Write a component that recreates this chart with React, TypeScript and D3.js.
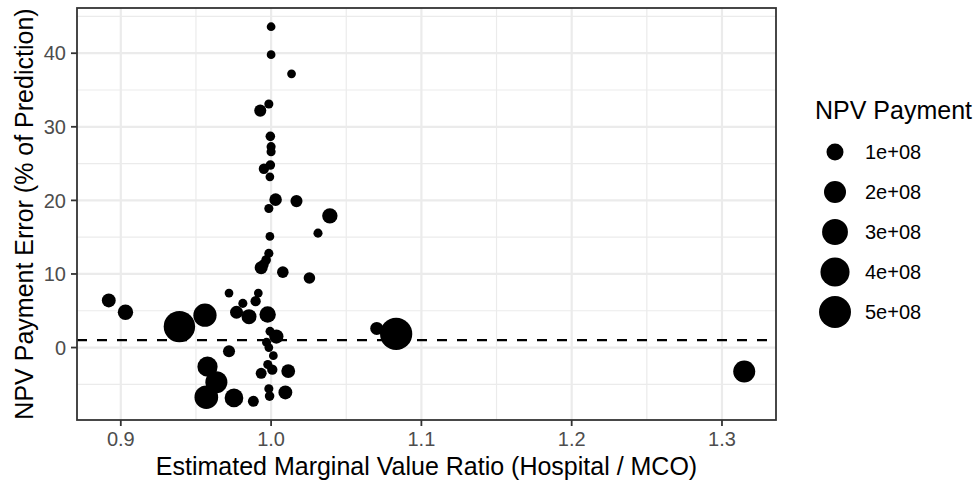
import React from "react";
import * as d3 from "d3";

// Estimated Marginal Value Ratio (Hospital / MCO)
const ratio = [
  1.0, 1.0, 1.0136, 0.9985, 0.9928, 0.9995, 1.0, 1.0, 0.9952, 0.9995,
  0.9992, 1.003, 1.0169, 0.9985, 1.0391, 1.0312, 0.9992, 0.9985, 0.9934, 0.995,
  0.9967, 1.0078, 1.0255, 0.972, 0.9915, 0.9897, 0.9812, 0.977, 0.9853, 0.9977,
  0.956, 0.939, 0.892, 0.9031, 0.9993, 1.0035, 0.997, 0.9985, 0.972, 1.0015,
  0.9577, 0.9978, 1.0008, 0.9934, 1.0114, 0.9636, 0.9569, 0.9753, 0.9882, 0.9985,
  0.999, 1.0095, 1.0703, 1.0832, 1.3148,
];
// NPV Payment Error (% of Prediction)
const errorPct = [
  43.6, 39.8, 37.2, 33.1, 32.2, 28.7, 27.3, 26.6, 24.3, 24.8,
  23.2, 20.1, 19.9, 18.9, 17.9, 15.55, 15.1, 12.8, 10.85, 11.3,
  11.9, 10.25, 9.45, 7.4, 7.4, 6.3, 6.0, 4.8, 4.2, 4.5,
  4.4, 2.85, 6.4, 4.8, 2.2, 1.5, 0.7, 0.0, -0.5, -1.1,
  -2.6, -2.3, -3.0, -3.5, -3.2, -4.7, -6.75, -6.85, -7.3, -5.6,
  -6.6, -6.1, 2.6, 1.85, -3.25,
];
// NPV Payment (in units of 1e8)
const payment = [
  0.1, 0.1, 0.1, 0.12, 0.35, 0.15, 0.12, 0.12, 0.2, 0.15,
  0.1, 0.4, 0.35, 0.12, 0.75, 0.12, 0.1, 0.12, 0.45, 0.2,
  0.15, 0.3, 0.3, 0.1, 0.1, 0.2, 0.12, 0.45, 0.7, 0.9,
  2.3, 4.8, 0.55, 0.75, 0.12, 0.6, 0.12, 0.1, 0.35, 0.1,
  1.6, 0.12, 0.2, 0.25, 0.55, 2.0, 2.4, 1.3, 0.25, 0.12,
  0.15, 0.55, 0.45, 5.1, 2.0,
];
const referenceLine = 1;
const xTicks = [0.9, 1.0, 1.1, 1.2, 1.3];
const xMinor = [0.95, 1.05, 1.15, 1.25];
const yTicks = [0, 10, 20, 30, 40];
const yMinor = [-5, 5, 15, 25, 35, 45];
const legendBreaks = [1, 2, 3, 4, 5];
const legendLabels = ["1e+08", "2e+08", "3e+08", "4e+08", "5e+08"];

const W = 977;
const H = 485;
const panel = { left: 77, right: 776, top: 8, bottom: 420 };
const FONT = "'Liberation Sans', Arial, Helvetica, sans-serif";

export default function App() {
  const pts = ratio.map((r, i) => ({ x: r, y: errorPct[i], v: payment[i] }));
  const xe = d3.extent(ratio) as [number, number];
  const ye = d3.extent(errorPct) as [number, number];
  const xs = xe[1] - xe[0];
  const ys = ye[1] - ye[0];
  const x = d3
    .scaleLinear()
    .domain([xe[0] - 0.05 * xs, xe[1] + 0.05 * xs])
    .range([panel.left, panel.right]);
  const y = d3
    .scaleLinear()
    .domain([ye[0] - 0.05 * ys, ye[1] + 0.05 * ys])
    .range([panel.bottom, panel.top]);
  const r = d3.scaleSqrt().domain([0, 1]).range([2.45, 8.5]);

  const sorted = [...pts].sort((a, b) => b.v - a.v);
  const gridCol = "#EBEBEB";
  const axisCol = "#333333";
  const tickTextCol = "#4D4D4D";

  return (
    <svg
      width={W}
      height={H}
      style={{ position: "absolute", left: 0, top: 0, background: "#fff" }}
      fontFamily={FONT}
    >
      <rect x={0} y={0} width={W} height={H} fill="#fff" />
      <defs>
        <clipPath id="pclip">
          <rect
            x={panel.left}
            y={panel.top}
            width={panel.right - panel.left}
            height={panel.bottom - panel.top}
          />
        </clipPath>
      </defs>
      <g clipPath="url(#pclip)">
        {xMinor.map((t) => (
          <line key={"xm" + t} x1={x(t)} x2={x(t)} y1={panel.top} y2={panel.bottom} stroke={gridCol} strokeWidth={1.2} />
        ))}
        {yMinor.map((t) => (
          <line key={"ym" + t} y1={y(t)} y2={y(t)} x1={panel.left} x2={panel.right} stroke={gridCol} strokeWidth={1.2} />
        ))}
        {xTicks.map((t) => (
          <line key={"xg" + t} x1={x(t)} x2={x(t)} y1={panel.top} y2={panel.bottom} stroke={gridCol} strokeWidth={2.2} />
        ))}
        {yTicks.map((t) => (
          <line key={"yg" + t} y1={y(t)} y2={y(t)} x1={panel.left} x2={panel.right} stroke={gridCol} strokeWidth={2.2} />
        ))}
        {sorted.map((p, i) => (
          <circle key={i} cx={x(p.x)} cy={y(p.y)} r={r(p.v)} fill="#000" />
        ))}
        <line
          x1={panel.left}
          x2={panel.right}
          y1={y(referenceLine)}
          y2={y(referenceLine)}
          stroke="#000"
          strokeWidth={2.2}
          strokeDasharray="10,10"
        />
      </g>
      <rect
        x={panel.left}
        y={panel.top}
        width={panel.right - panel.left}
        height={panel.bottom - panel.top}
        fill="none"
        stroke={axisCol}
        strokeWidth={1.8}
      />
      {xTicks.map((t) => (
        <g key={"xt" + t}>
          <line x1={x(t)} x2={x(t)} y1={panel.bottom} y2={panel.bottom + 6} stroke={axisCol} strokeWidth={1.8} />
          <text x={x(t)} y={446} textAnchor="middle" fontSize={20} fill={tickTextCol}>
            {d3.format(".1f")(t)}
          </text>
        </g>
      ))}
      {yTicks.map((t) => (
        <g key={"yt" + t}>
          <line x1={panel.left - 6} x2={panel.left} y1={y(t)} y2={y(t)} stroke={axisCol} strokeWidth={1.8} />
          <text x={66} y={y(t)} dy="0.36em" textAnchor="end" fontSize={20} fill={tickTextCol}>
            {t}
          </text>
        </g>
      ))}
      <text x={(panel.left + panel.right) / 2} y={475} textAnchor="middle" fontSize={25} fill="#000">
        Estimated Marginal Value Ratio (Hospital / MCO)
      </text>
      <text
        transform={`translate(33,${(panel.top + panel.bottom) / 2}) rotate(-90)`}
        textAnchor="middle"
        fontSize={25}
        fill="#000"
      >
        NPV Payment Error (% of Prediction)
      </text>
      <text x={815} y={119} fontSize={25} fill="#000">
        NPV Payment
      </text>
      {legendBreaks.map((b, i) => (
        <g key={"lg" + b}>
          <circle cx={835} cy={152 + i * 40} r={r(b)} fill="#000" />
          <text x={865} y={152 + i * 40} dy="0.36em" fontSize={20} fill="#000">
            {legendLabels[i]}
          </text>
        </g>
      ))}
    </svg>
  );
}
